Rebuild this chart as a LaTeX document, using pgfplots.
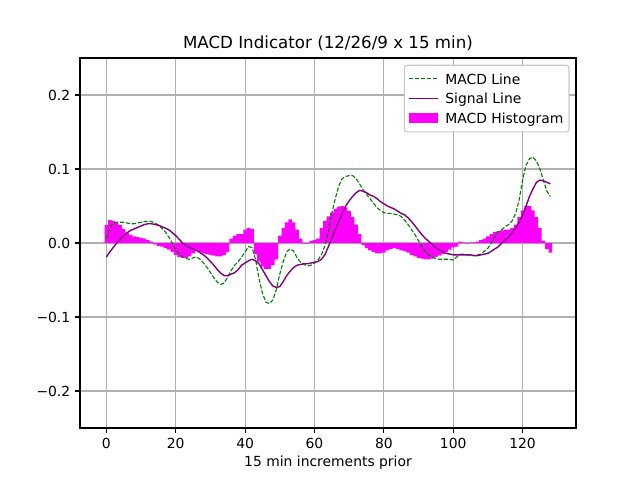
\documentclass[border=0pt]{standalone}
\usepackage{fontspec}
\setmainfont{DejaVu Sans}
\usepackage{pgfplots}
\pgfplotsset{compat=1.18}
\usepackage{pgfplotstable}
\definecolor{mgreen}{HTML}{008000}
\definecolor{mpurple}{HTML}{800080}
\definecolor{mmag}{HTML}{FF00FF}
\definecolor{gridc}{HTML}{B0B0B0}
\pgfplotsset{
  linelegend/.style={legend image code/.code={\draw[##1, sharp corners] (0pt,0pt) -- (20.5pt,0pt); \path[draw=none, fill=none] (0pt,0pt) -- (25pt,0pt);}},
  histlegend/.style={legend image code/.code={\fill[mmag, draw=none, sharp corners] (0pt,-3.5pt) rectangle (20.5pt,3.5pt); \path[draw=none, fill=none] (0pt,0pt) -- (25pt,0pt);}},
}

\pgfplotstableread{
x y
0 0.024
1 0.031
2 0.030
3 0.028
4 0.024
5 0.019
6 0.014
7 0.011
8 0.009
9 0.008
10 0.007
11 0.006
12 0.004
13 0.002
14 -0.002
15 -0.004
16 -0.005
17 -0.007
18 -0.009
19 -0.012
20 -0.016
21 -0.019
22 -0.020
23 -0.020
24 -0.018
25 -0.014
26 -0.011
27 -0.012
28 -0.014
29 -0.015
30 -0.016
31 -0.017
32 -0.018
33 -0.018
34 -0.016
35 -0.012
36 0.006
37 0.010
38 0.012
39 0.012
40 0.018
41 0.020
42 0.019
43 -0.015
44 -0.025
45 -0.032
46 -0.035
47 -0.035
48 -0.030
49 -0.022
50 0.010
51 0.020
52 0.028
53 0.032
54 0.028
55 0.018
56 0.006
57 -0.001
58 -0.001
59 0.003
60 0.004
61 0.006
62 0.020
63 0.030
64 0.036
65 0.041
66 0.046
67 0.049
68 0.050
69 0.048
70 0.043
71 0.035
72 0.025
73 0.012
74 -0.003
75 -0.007
76 -0.010
77 -0.012
78 -0.014
79 -0.014
80 -0.013
81 -0.010
82 -0.008
83 -0.007
84 -0.008
85 -0.010
86 -0.011
87 -0.013
88 -0.016
89 -0.018
90 -0.020
91 -0.021
92 -0.022
93 -0.022
94 -0.021
95 -0.019
96 -0.017
97 -0.015
98 -0.012
99 -0.009
100 -0.006
101 -0.005
102 0.002
103 0.001
104 -0.001
105 0.001
106 0.001
107 0.002
108 0.004
109 0.006
110 0.009
111 0.012
112 0.015
113 0.016
114 0.017
115 0.018
116 0.018
117 0.020
118 0.025
119 0.035
120 0.044
121 0.050
122 0.050
123 0.044
124 0.035
125 0.020
126 0.003
127 -0.008
128 -0.013
}\histtable

\pgfplotstableread{
x y
0 0.006
1 0.020
2 0.027
3 0.028
4 0.028
5 0.028
6 0.027
7 0.026
8 0.026
9 0.027
10 0.028
11 0.029
12 0.029
13 0.029
14 0.027
15 0.024
16 0.020
17 0.015
18 0.008
19 0.000
20 -0.009
21 -0.015
22 -0.019
23 -0.021
24 -0.022
25 -0.020
26 -0.019
27 -0.022
28 -0.027
29 -0.033
30 -0.040
31 -0.047
32 -0.053
33 -0.056
34 -0.054
35 -0.046
36 -0.037
37 -0.030
38 -0.025
39 -0.019
40 -0.012
41 -0.005
42 -0.006
43 -0.022
44 -0.048
45 -0.068
46 -0.080
47 -0.082
48 -0.077
49 -0.063
50 -0.042
51 -0.025
52 -0.012
53 -0.008
54 -0.011
55 -0.020
56 -0.026
57 -0.029
58 -0.031
59 -0.030
60 -0.027
61 -0.023
62 -0.016
63 -0.004
64 0.015
65 0.040
66 0.060
67 0.077
68 0.087
69 0.090
70 0.091
71 0.091
72 0.087
73 0.080
74 0.072
75 0.066
76 0.060
77 0.054
78 0.048
79 0.044
80 0.041
81 0.040
82 0.040
83 0.039
84 0.038
85 0.036
86 0.031
87 0.025
88 0.018
89 0.011
90 0.003
91 -0.005
92 -0.012
93 -0.016
94 -0.019
95 -0.021
96 -0.022
97 -0.022
98 -0.022
99 -0.022
100 -0.023
101 -0.019
102 -0.015
103 -0.015
104 -0.016
105 -0.017
106 -0.017
107 -0.016
108 -0.015
109 -0.011
110 -0.007
111 0.000
112 0.009
113 0.015
114 0.018
115 0.022
116 0.025
117 0.030
118 0.040
119 0.058
120 0.085
121 0.105
122 0.114
123 0.116
124 0.111
125 0.100
126 0.085
127 0.070
128 0.063
}\macdtable

\pgfplotstableread{
x y
0 -0.019
1 -0.012
2 -0.006
3 0.000
4 0.005
5 0.010
6 0.014
7 0.017
8 0.019
9 0.021
10 0.023
11 0.025
12 0.026
13 0.026
14 0.025
15 0.024
16 0.022
17 0.020
18 0.018
19 0.014
20 0.010
21 0.005
22 0.000
23 -0.004
24 -0.006
25 -0.008
26 -0.010
27 -0.013
28 -0.016
29 -0.020
30 -0.025
31 -0.030
32 -0.036
33 -0.041
34 -0.044
35 -0.044
36 -0.042
37 -0.040
38 -0.036
39 -0.030
40 -0.027
41 -0.024
42 -0.022
43 -0.024
44 -0.028
45 -0.036
46 -0.044
47 -0.052
48 -0.058
49 -0.060
50 -0.059
51 -0.052
52 -0.044
53 -0.038
54 -0.033
55 -0.030
56 -0.029
57 -0.028
58 -0.028
59 -0.027
60 -0.026
61 -0.025
62 -0.022
63 -0.016
64 -0.005
65 0.006
66 0.018
67 0.029
68 0.040
69 0.050
70 0.057
71 0.063
72 0.068
73 0.071
74 0.070
75 0.068
76 0.065
77 0.063
78 0.060
79 0.056
80 0.053
81 0.050
82 0.048
83 0.046
84 0.043
85 0.040
86 0.038
87 0.034
88 0.029
89 0.023
90 0.017
91 0.011
92 0.006
93 0.002
94 -0.002
95 -0.006
96 -0.009
97 -0.012
98 -0.014
99 -0.015
100 -0.016
101 -0.016
102 -0.016
103 -0.016
104 -0.016
105 -0.016
106 -0.017
107 -0.017
108 -0.016
109 -0.015
110 -0.014
111 -0.011
112 -0.008
113 -0.005
114 0.000
115 0.004
116 0.008
117 0.014
118 0.020
119 0.028
120 0.038
121 0.050
122 0.063
123 0.073
124 0.082
125 0.085
126 0.084
127 0.082
128 0.080
}\signaltable

\begin{document}
\begin{tikzpicture}
\useasboundingbox (-57.6pt,-37.44pt) rectangle (403.2pt,308.16pt);
\begin{axis}[
  at={(0pt,0pt)}, anchor=south west,
  scale only axis,
  width=357.12pt, height=266.4pt,
  xmin=-7.6, xmax=135.4,
  ymin=-0.25, ymax=0.25,
  xtick={0,20,40,60,80,100,120},
  xticklabels={0,20,40,60,80,100,120},
  ytick={-0.2,-0.1,0,0.1,0.2},
  yticklabels={−0.2,−0.1,0.0,0.1,0.2},
  tick align=outside,
  major tick length=3.5pt,
  tick style={black, line width=0.8pt},
  xtick pos=bottom, ytick pos=left,
  tick label style={font=\fontsize{10}{12}\selectfont},
  grid=major,
  major grid style={gridc, line width=0.8pt},
  axis line style={line width=0.8pt},
  title={MACD Indicator (12/26/9 x 15 min)},
  title style={font=\fontsize{12}{14}\selectfont, yshift=-4.6pt},
  xlabel={15 min increments prior},
  xlabel style={font=\fontsize{10}{12}\selectfont, yshift=1pt},
  legend cell align=left,
  legend style={at={(0.987,0.982)}, anchor=north east,
    font=\fontsize{10}{12}\selectfont,
    draw=gridc!70!white, rounded corners=2pt, line width=0.8pt,
    row sep=4.6pt, inner xsep=3pt, inner ysep=5pt,
    nodes={inner sep=1pt, text depth=0pt}},
]
\addplot[ybar, bar width=1, bar shift=0pt, fill=mmag, draw=none, forget plot] table[x=x,y=y] {\histtable};
\addplot[mgreen, line width=0.8pt, dash pattern=on 3pt off 1.3pt, linelegend] table[x=x,y=y] {\macdtable};
\addlegendentry{MACD Line}
\addplot[mpurple, line width=1pt, linelegend] table[x=x,y=y] {\signaltable};
\addlegendentry{Signal Line}
\addlegendimage{histlegend}
\addlegendentry{MACD Histogram}
\end{axis}
\end{tikzpicture}
\end{document}
